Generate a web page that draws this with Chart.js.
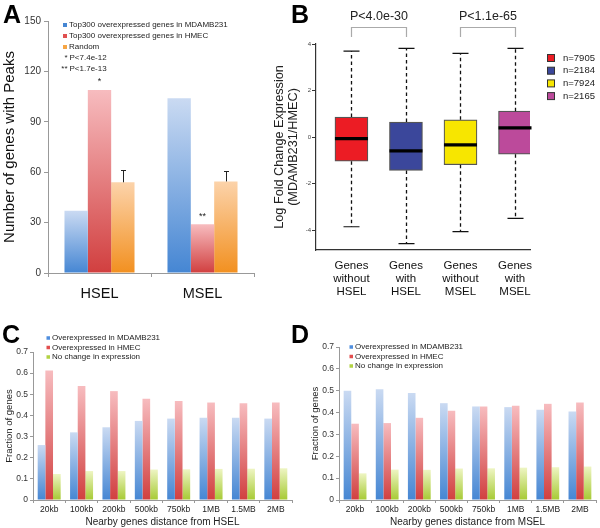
<!DOCTYPE html>
<html>
<head>
<meta charset="utf-8">
<script src="https://cdn.jsdelivr.net/npm/chart.js@4.4.1/dist/chart.umd.min.js"></script>
<style>
  body { margin: 0; width: 600px; height: 528px; position: relative; overflow: hidden; background: #fff; }
  canvas { position: absolute; }
  .panel { position: absolute; font-family: "Liberation Sans", Arial, sans-serif; font-weight: bold; font-size: 25px; line-height: 25px; color: #000; }
</style>
</head>
<body>
<canvas id="chartA" width="300" height="300" style="left:0;top:0"></canvas>
<canvas id="chartB" width="335" height="300" style="left:265px;top:0"></canvas>
<canvas id="chartC" width="300" height="228" style="left:0;top:300px"></canvas>
<canvas id="chartD" width="300" height="228" style="left:300px;top:300px"></canvas>
<div class="panel" style="left:3px;top:2px">A</div>
<div class="panel" style="left:291px;top:2px">B</div>
<div class="panel" style="left:2px;top:322px">C</div>
<div class="panel" style="left:291px;top:322px">D</div>
<script>
// A: genes with peaks
const groupsA = ['HSEL', 'MSEL'];
const seriesA = ['Top300 overexpressed genes in MDAMB231', 'Top300 overexpressed genes in HMEC', 'Random'];
const mdaA = [37, 104];
const hmecA = [109, 29];
const randomA = [54, 54.5];
const randomTopA = [61.5, 61];
const starsA = ['*', '**'];
const notesA = ['* P<7.4e-12', '** P<1.7e-13'];

// B: box plots of log fold change
const groupsB = [['Genes', 'without', 'HSEL'], ['Genes', 'with', 'HSEL'], ['Genes', 'without', 'MSEL'], ['Genes', 'with', 'MSEL']];
const countsB = ['n=7905', 'n=2184', 'n=7924', 'n=2165'];
const lowB = [-3.86, -4.59, -4.07, -3.5];
const q1B = [-1.04, -1.44, -1.19, -0.74];
const medianB = [-0.07, -0.6, -0.34, 0.39];
const q3B = [0.86, 0.64, 0.74, 1.11];
const highB = [3.69, 3.81, 3.6, 3.81];
const pValuesB = ['P<4.0e-30', 'P<1.1e-65'];
const ticksB = [-4, -2, 0, 2, 4];

// C and D: fraction of genes by distance
const distances = ['20kb', '100kb', '200kb', '500kb', '750kb', '1MB', '1.5MB', '2MB'];
const seriesCD = ['Overexpressed in MDAMB231', 'Overexpressed in HMEC', 'No change in expression'];
const mdaC = [0.26, 0.32, 0.344, 0.374, 0.385, 0.389, 0.389, 0.385];
const hmecC = [0.613, 0.539, 0.515, 0.479, 0.468, 0.461, 0.458, 0.461];
const sameC = [0.123, 0.137, 0.137, 0.144, 0.145, 0.147, 0.148, 0.15];
const mdaD = [0.5, 0.507, 0.489, 0.443, 0.428, 0.425, 0.413, 0.405];
const hmecD = [0.349, 0.352, 0.376, 0.408, 0.428, 0.431, 0.44, 0.446];
const sameD = [0.122, 0.139, 0.138, 0.144, 0.145, 0.148, 0.15, 0.153];

const FONT = '"Liberation Sans", Arial, sans-serif';
Chart.defaults.font.family = FONT;
Chart.defaults.color = '#222';

const blueG = ['#cadaf2', '#4586d3'];
const redG = ['#f7bcbf', '#d13f3f'];
const orangeG = ['#fcd3aa', '#f29020'];
const greenG = ['#eef5c3', '#a6ca33'];
const boxColorsB = ['#ec1c24', '#3b479b', '#f7e600', '#bc4a9b'];

// vertical gradient over each bar, light on top
function barGradient(colors) {
  return ctx => {
    const chart = ctx.chart;
    if (!chart.chartArea || ctx.type !== 'data') return colors[1];
    const y = chart.scales.y;
    const top = y.getPixelForValue(ctx.raw);
    const base = y.getPixelForValue(0);
    if (!isFinite(top) || Math.abs(base - top) < 1) return colors[1];
    const g = chart.ctx.createLinearGradient(0, top, 0, base);
    g.addColorStop(0, colors[0]);
    g.addColorStop(1, colors[1]);
    return g;
  };
}

function drawLegend(c, names, colors, x, y, step, size, box) {
  c.save();
  c.font = size + 'px ' + FONT;
  c.textBaseline = 'middle';
  names.forEach((n, i) => {
    c.fillStyle = colors[i];
    c.fillRect(x, y + i * step - box / 2, box, box);
    c.fillStyle = '#222';
    c.fillText(n, x + box + 2, y + i * step);
  });
  c.restore();
}

const noPlugins = { legend: { display: false }, tooltip: { enabled: false } };

// ---------- A ----------
const annotateA = {
  id: 'annotateA',
  afterDatasetsDraw(chart) {
    const c = chart.ctx, y = chart.scales.y;
    c.save();
    c.strokeStyle = '#222';
    c.lineWidth = 1;
    chart.getDatasetMeta(2).data.forEach((bar, i) => {
      const top = Math.round(y.getPixelForValue(randomTopA[i])) + 0.5;
      const x = Math.round(bar.x) + 0.5;
      c.beginPath();
      c.moveTo(x, bar.y);
      c.lineTo(x, top);
      c.moveTo(x - 2.5, top);
      c.lineTo(x + 2.5, top);
      c.stroke();
    });
    c.font = '9px ' + FONT;
    c.fillStyle = '#222';
    c.textAlign = 'center';
    c.textBaseline = 'middle';
    chart.getDatasetMeta(1).data.forEach((bar, i) => {
      c.fillText(starsA[i], bar.x, bar.y - 8);
    });
    c.restore();
    drawLegend(c, seriesA, [blueG[1], '#e05050', '#f6a544'], 63, 25, 11, 8, 4);
    c.save();
    c.font = '8px ' + FONT;
    c.fillStyle = '#222';
    c.textBaseline = 'middle';
    notesA.forEach((n, i) => {
      const parts = n.split(' ');
      c.textAlign = 'right';
      c.fillText(parts[0], 67.5, 58 + i * 10.5);
      c.textAlign = 'left';
      c.fillText(parts[1], 69.5, 58 + i * 10.5);
    });
    c.restore();
  }
};

new Chart(document.getElementById('chartA'), {
  type: 'bar',
  data: {
    labels: groupsA,
    datasets: [
      { label: seriesA[0], data: mdaA, backgroundColor: barGradient(blueG) },
      { label: seriesA[1], data: hmecA, backgroundColor: barGradient(redG) },
      { label: seriesA[2], data: randomA, backgroundColor: barGradient(orangeG) }
    ]
  },
  options: {
    responsive: false,
    animation: false,
    layout: { padding: { top: 21, right: 46, left: 0, bottom: 0 } },
    datasets: { bar: { categoryPercentage: 0.68, barPercentage: 1 } },
    plugins: noPlugins,
    scales: {
      x: {
        grid: { offset: true, drawOnChartArea: false, tickLength: 4, color: '#999' },
        border: { color: '#999' },
        ticks: { font: { size: 14.5 }, color: '#111', padding: 8 },
        afterFit: s => { s.height = 27; }
      },
      y: {
        min: 0, max: 150,
        ticks: { stepSize: 30, font: { size: 10 }, color: '#333', padding: 3 },
        grid: { drawOnChartArea: false, tickLength: 4, color: '#999' },
        border: { color: '#999' },
        title: { display: true, text: 'Number of genes with Peaks', font: { size: 15 }, color: '#111', padding: { top: 1, bottom: 0 } },
        afterFit: s => { s.width = 48; }
      }
    }
  },
  plugins: [annotateA]
});

// ---------- B ----------
const boxPartsB = {
  id: 'boxPartsB',
  afterDatasetsDraw(chart) {
    const c = chart.ctx, x = chart.scales.x, y = chart.scales.y;
    c.save();
    c.strokeStyle = '#111';
    highB.forEach((hi, i) => {
      const cx = Math.round(x.getPixelForValue(i + 1)) + 0.5;
      const pHi = y.getPixelForValue(hi), pLo = y.getPixelForValue(lowB[i]);
      const p3 = y.getPixelForValue(q3B[i]), p1 = y.getPixelForValue(q1B[i]);
      c.lineWidth = 1.3;
      c.setLineDash([3.5, 3]);
      c.beginPath();
      c.moveTo(cx, p3); c.lineTo(cx, pHi);
      c.moveTo(cx, p1); c.lineTo(cx, pLo);
      c.stroke();
      c.setLineDash([]);
      c.lineWidth = 1.2;
      c.beginPath();
      c.moveTo(cx - 8, pHi); c.lineTo(cx + 8, pHi);
      c.moveTo(cx - 8, pLo); c.lineTo(cx + 8, pLo);
      c.stroke();
    });
    chart.getDatasetMeta(0).data.forEach((bar, i) => {
      const pm = y.getPixelForValue(medianB[i]);
      c.lineWidth = 3.2;
      c.strokeStyle = '#000';
      c.beginPath();
      c.moveTo(bar.x - bar.width / 2, pm);
      c.lineTo(bar.x + bar.width / 2, pm);
      c.stroke();
    });
    // p-value brackets
    c.font = '12.5px ' + FONT;
    c.fillStyle = '#222';
    c.textAlign = 'center';
    c.textBaseline = 'middle';
    pValuesB.forEach((p, k) => {
      const a = Math.round(x.getPixelForValue(2 * k + 1)) + 0.5;
      const b = Math.round(x.getPixelForValue(2 * k + 2)) + 0.5;
      c.strokeStyle = '#aaa';
      c.lineWidth = 1.2;
      c.beginPath();
      c.moveTo(a, 37); c.lineTo(a, 27.5); c.lineTo(b, 27.5); c.lineTo(b, 37);
      c.stroke();
      c.fillText(p, (a + b) / 2, 17);
    });
    // legend
    c.font = '9.5px ' + FONT;
    c.textAlign = 'left';
    countsB.forEach((n, i) => {
      const ly = 58 + i * 12.7;
      c.fillStyle = boxColorsB[i];
      c.fillRect(282.5, ly - 3.5, 7, 7);
      c.strokeStyle = '#333';
      c.lineWidth = 1;
      c.strokeRect(282.5, ly - 3.5, 7, 7);
      c.fillStyle = '#222';
      c.fillText(n, 298, ly);
    });
    c.restore();
  }
};

new Chart(document.getElementById('chartB'), {
  type: 'bar',
  data: {
    datasets: [{
      data: q1B.map((q, i) => ({ x: i + 1, y: [q, q3B[i]] })),
      backgroundColor: boxColorsB,
      borderColor: '#555',
      borderWidth: 1.2,
      borderSkipped: false,
      barThickness: 33
    }]
  },
  options: {
    responsive: false,
    animation: false,
    layout: { padding: { top: 44, right: 70, left: 0, bottom: 0 } },
    plugins: noPlugins,
    scales: {
      x: {
        type: 'linear',
        offset: false,
        min: 0.35, max: 4.275,
        afterBuildTicks: s => { s.ticks = groupsB.map((g, i) => ({ value: i + 1 })); },
        ticks: { callback: v => groupsB[v - 1], font: { size: 11.5, lineHeight: 1.13 }, color: '#111', padding: 9 },
        grid: { display: false, drawTicks: false },
        border: { color: '#333', width: 1.2 },
        afterFit: s => { s.height = 50; }
      },
      y: {
        min: -4.86, max: 4,
        afterBuildTicks: s => { s.ticks = ticksB.map(v => ({ value: v })); },
        ticks: { font: { size: 6 }, color: '#444', padding: 1 },
        grid: { drawOnChartArea: false, tickLength: 4, color: '#333' },
        border: { color: '#333', width: 1.2 },
        title: {
          display: true,
          text: ['Log Fold Change Expression', '(MDAMB231/HMEC)'],
          font: { size: 12.7, lineHeight: 1.05 },
          color: '#222',
          padding: { top: 8.3, bottom: 0 }
        },
        afterFit: s => { s.width = 51; }
      }
    }
  },
  plugins: [boxPartsB]
});

// ---------- C and D ----------
function fractionChart(id, mda, hmec, same, place) {
  const legendCD = {
    id: 'legendCD',
    afterDatasetsDraw(chart) {
      drawLegend(chart.ctx, seriesCD, ['#4f8ede', '#e24e4e', '#b2d243'], place.legendX, place.legendY, 9.5, 8, 3.5);
    }
  };
  new Chart(document.getElementById(id), {
    type: 'bar',
    data: {
      labels: distances,
      datasets: [
        { label: seriesCD[0], data: mda, backgroundColor: barGradient(blueG) },
        { label: seriesCD[1], data: hmec, backgroundColor: barGradient(redG) },
        { label: seriesCD[2], data: same, backgroundColor: barGradient(greenG) }
      ]
    },
    options: {
      responsive: false,
      animation: false,
      layout: { padding: { top: place.top, right: place.right, left: 0, bottom: 0 } },
      datasets: { bar: { categoryPercentage: 0.71, barPercentage: 1 } },
      plugins: noPlugins,
      scales: {
        x: {
          grid: { offset: true, drawOnChartArea: false, tickLength: 3, color: '#999' },
          border: { color: '#999' },
          ticks: { font: { size: 8.5 }, color: '#222', padding: 2, maxRotation: 0, autoSkip: false },
          title: { display: true, text: place.xTitle, font: { size: 10, lineHeight: 1 }, color: '#222', padding: { top: 0, bottom: 1 } },
          afterFit: s => { s.height = 28; }
        },
        y: {
          min: 0, max: 0.7,
          ticks: { stepSize: 0.1, font: { size: 8.5 }, color: '#333', padding: 2, callback: v => v === 0 ? '0' : v.toFixed(1) },
          grid: { drawOnChartArea: false, tickLength: 3, color: '#999' },
          border: { color: '#999' },
          title: { display: true, text: 'Fraction of genes', font: { size: 9.5 }, color: '#222', padding: { top: place.titlePad, bottom: 0 } },
          afterFit: s => { s.width = place.axisW; }
        }
      }
    },
    plugins: [legendCD]
  });
}

fractionChart('chartC', mdaC, hmecC, sameC, {
  top: 52, right: 8, axisW: 33, titlePad: 3.5, legendX: 46.5, legendY: 38, xTitle: 'Nearby genes distance from HSEL'
});
fractionChart('chartD', mdaD, hmecD, sameD, {
  top: 47, right: 4, axisW: 39, titlePad: 9.5, legendX: 49.5, legendY: 47, xTitle: 'Nearby genes distance from MSEL'
});
</script>
</body>
</html>
